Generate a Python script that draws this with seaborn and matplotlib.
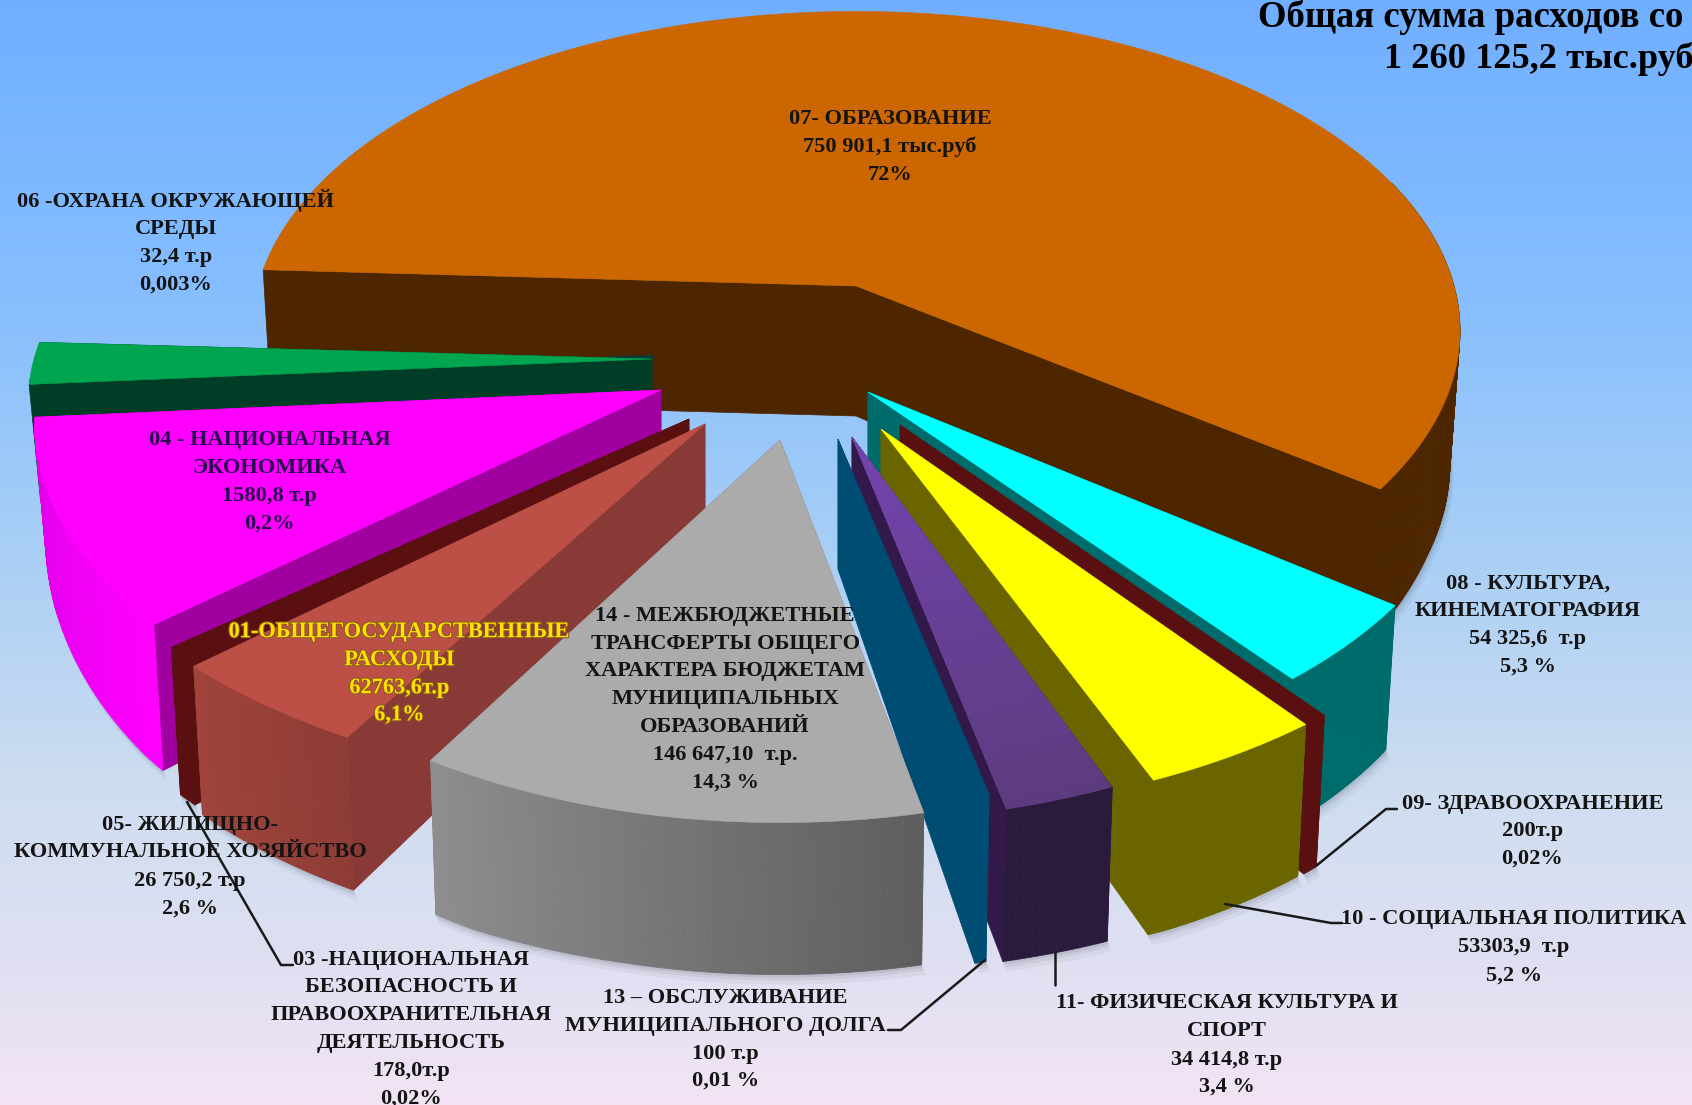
import numpy as np
import seaborn as sns
import matplotlib
matplotlib.use("Agg")
import matplotlib.pyplot as plt
import matplotlib.patheffects as pe
from matplotlib.colors import to_rgb

# slices clockwise from the left edge of 07, sizes in degrees as drawn in the picture
codes = ["07", "08", "09", "10", "11", "13", "14", "01", "03", "04", "06"]
slice_deg = [213.5, 14.5, 1.5, 15, 9.5, 1, 43, 17, 2, 35.5, 7.5]
start_deg = 177

title_lines = ["Общая сумма расходов со", "1 260 125,2 тыс.руб"]

label_07 = ["07- ОБРАЗОВАНИЕ", "750 901,1 тыс.руб", "72%"]
label_06 = ["06 -ОХРАНА ОКРУЖАЮЩЕЙ", "СРЕДЫ", "32,4 т.р", "0,003%"]
label_04 = ["04 - НАЦИОНАЛЬНАЯ", "ЭКОНОМИКА", "1580,8 т.р", "0,2%"]
label_01 = ["01-ОБЩЕГОСУДАРСТВЕННЫЕ", "РАСХОДЫ", "62763,6т.р", "6,1%"]
label_14 = ["14 - МЕЖБЮДЖЕТНЫЕ", "ТРАНСФЕРТЫ ОБЩЕГО", "ХАРАКТЕРА БЮДЖЕТАМ", "МУНИЦИПАЛЬНЫХ",
            "ОБРАЗОВАНИЙ", "146 647,10  т.р.", "14,3 %"]
label_08 = ["08 - КУЛЬТУРА,", "КИНЕМАТОГРАФИЯ", "54 325,6  т.р", "5,3 %"]
label_09 = ["09- ЗДРАВООХРАНЕНИЕ", "200т.р", "0,02%"]
label_10 = ["10 - СОЦИАЛЬНАЯ ПОЛИТИКА", "53303,9  т.р", "5,2 %"]
label_11 = ["11- ФИЗИЧЕСКАЯ КУЛЬТУРА И", "СПОРТ", "34 414,8 т.р", "3,4 %"]
label_13 = ["13 – ОБСЛУЖИВАНИЕ", "МУНИЦИПАЛЬНОГО ДОЛГА", "100 т.р", "0,01 %"]
label_03 = ["03 -НАЦИОНАЛЬНАЯ", "БЕЗОПАСНОСТЬ И", "ПРАВООХРАНИТЕЛЬНАЯ", "ДЕЯТЕЛЬНОСТЬ", "178,0т.р", "0,02%"]
label_05 = ["05- ЖИЛИЩНО-", "КОММУНАЛЬНОЕ ХОЗЯЙСТВО", "26 750,2 т.р", "2,6 %"]

# per slice look: apex in pixels, radii, perspective, colours
apex = {"07": (856, 286), "08": (868, 392), "09": (900, 425), "10": (881, 429), "11": (852, 437),
        "13": (838, 439), "14": (780, 440), "01": (705, 424), "03": (689, 419), "04": (661, 390),
        "06": (652, 359)}
radii = {"07": (598, 313), "08": (601, 329), "09": (601, 333), "10": (620, 331), "11": (592, 330),
         "13": (580, 315), "14": (597, 329), "01": (665, 350), "03": (654, 344), "04": (624, 344),
         "06": (618, 320)}
persp = {"01": 0.05, "03": 0.05, "04": 0.09}
extra_depth = {"13": 14, "07": 22}
top_col = {"07": ("#CC6600", "#CC6600"), "08": ("#00FFFF", "#00FFFF"), "09": ("#5A1010", "#5A1010"),
           "10": ("#FFFF00", "#FFFF00"), "11": ("#7444B0", "#5C3C7E"), "13": ("#004D73", "#004D73"),
           "14": ("#ABABAB", "#ABABAB"), "01": ("#BD5046", "#BD5046"), "03": ("#5A1010", "#5A1010"),
           "04": ("#FF00FF", "#FF00FF"), "06": ("#00A550", "#00A550")}
face_col = {"07": "#4D2600", "08": "#006B6B", "09": "#5A1010", "10": "#6B6500", "11": "#33194A",
            "13": "#004D73", "14": "#7A7A7A", "01": "#8A3A36", "03": "#5A1010", "04": "#A000A0",
            "06": "#003D26"}
rim_col = {"07": ("#4D2600", "#4D2600"), "08": ("#006B6B", "#006B6B"), "09": ("#5A1010", "#5A1010"),
           "10": ("#6B6500", "#6B6500"), "11": ("#2A1B3D", "#2A1B3D"), "13": ("#004D73", "#004D73"),
           "14": ("#5E5E5E", "#8E8E8E"), "01": ("#8E3C36", "#A0443C"), "03": ("#5A1010", "#5A1010"),
           "04": ("#FF00FF", "#DE00E6"), "06": ("#003D26", "#003D26")}
draw_order = ["07", "06", "04", "03", "01", "08", "09", "10", "11", "13", "14"]

APEX_DEPTH = 130
sns.set_theme(style="white")
plt.rcParams["font.family"] = ["Liberation Serif", "DejaVu Serif"]

fig = plt.figure(figsize=(16.92, 11.05), dpi=100)
ax = fig.add_axes([0, 0, 1, 1])

# background
stops = np.array([to_rgb(c) for c in ["#70AFFF", "#86BEFF", "#A9CFF5", "#CFDDF0", "#E0E0F2", "#F3E4F5"]])
pos = [0, 0.27, 0.5, 0.72, 0.88, 1]
yy = np.linspace(0, 1, 512)
grad = np.stack([np.interp(yy, pos, stops[:, i]) for i in range(3)], axis=1)[:, None, :]
ax.imshow(grad, extent=(0, 1692, 1105, 0), aspect="auto", zorder=0)


def rim_pt(code, t, scale=1.0):
    ax0, ay0 = apex[code]
    rx, ry = radii[code]
    s, c = np.sin(np.radians(t)), np.cos(np.radians(t))
    d = 1 + persp.get(code, 0.14) * s
    return ax0 + scale * rx * c / d, ay0 - scale * ry * s / d


def drop(code, x, y):
    # bottom edge of the pie: nearer rows are thicker, slight narrowing towards the centre
    dep = np.interp(y, [270, 417, 610, 775, 811], [108, 116, 145, 155, 152]) + extra_depth.get(code, 0)
    return 780 + (np.asarray(x) - 780) * 0.985, y + dep


def mix(a, b, f):
    a, b = np.array(to_rgb(a)), np.array(to_rgb(b))
    return tuple(a + (b - a) * f)


ang = start_deg
spans = {}
for code, deg in zip(codes, slice_deg):
    spans[code] = (ang, ang - deg)
    ang -= deg

for n, code in enumerate(draw_order):
    t1, t2 = spans[code]
    ts = np.linspace(t1, t2, max(int(abs(t1 - t2) * 2), 6))
    x, y = rim_pt(code, ts)
    bx, by = drop(code, x, y)
    ax0, ay0 = apex[code]
    z = 2 + n
    sin_t, cos_t = np.sin(np.radians(ts)), np.cos(np.radians(ts))
    seen = (sin_t < -0.1) | ((cos_t > 0) & (sin_t < 0.35))

    # soft shadow under the rim
    if seen.any():
        for off, al in [(10, 0.05), (6, 0.07), (3, 0.09)]:
            ax.fill(np.r_[bx[seen], bx[seen][::-1] + off * 0.4], np.r_[by[seen], by[seen][::-1] + off],
                    color="#303040", alpha=al, lw=0, zorder=z)

    # radial side faces
    for i in [0, -1]:
        ax.fill([ax0, x[i], bx[i], ax0], [ay0, y[i], by[i], ay0 + APEX_DEPTH],
                color=face_col[code], lw=0.5, zorder=z)

    # outer rim in strips, only where the viewer can see it
    c1, c2 = rim_col[code]
    for i in range(len(ts) - 1):
        if not seen[i]:
            continue
        f = i / max(len(ts) - 2, 1)
        ax.fill([x[i], x[i + 1], bx[i + 1], bx[i]], [y[i], y[i + 1], by[i + 1], by[i]],
                color=mix(c1, c2, f), lw=0.6, zorder=z)

    # dark back edge along the far side of 06
    if code == "06":
        ax.plot([x[0] + 2, ax0], [y[0] - 3, ay0 - 2], color="#0A3A3A", lw=3, zorder=z)

    # top face, in rings when it has a gradient
    c1, c2 = top_col[code]
    if c1 == c2:
        ax.fill(np.r_[ax0, x], np.r_[ay0, y], color=c1, lw=0.4, zorder=z)
    else:
        for sc in np.linspace(1, 0.02, 40):
            xs, ys = rim_pt(code, ts, sc)
            ax.fill(np.r_[ax0, xs], np.r_[ay0, ys], color=mix(c1, c2, sc), lw=0, zorder=z)

# leader lines
leaders = [([1316, 1386, 1397], [866, 809, 809]),
           ([1225, 1331, 1342], [904, 923, 923]),
           ([1055, 1055], [951, 985]),
           ([888, 901, 985], [1030, 1030, 960]),
           ([187, 281, 293], [802, 965, 965])]
for lx, ly in leaders:
    sns.lineplot(x=lx, y=ly, sort=False, estimator=None, color="#1a1a1a", lw=1.8, ax=ax, zorder=20)


def put(lines, x, ys, color="#141414", size=16.1):
    for line, yv in zip(lines, ys):
        t = ax.text(x, yv + 2, line, ha="center", va="center", fontsize=size, fontweight="bold", color=color, zorder=30)
        if color == "#FFE000":
            t.set_path_effects([pe.withStroke(linewidth=1.5, foreground="#8a5a20")])


S = 1692 / 1568
put(label_07, 825 * S, [y * S for y in [108, 134, 160]])
put(label_06, 163 * S, [y * S for y in [184, 210, 236, 262]])
put(label_04, 250 * S, [y * S for y in [406, 432, 458, 483]], color="#2a0a50")
put(label_01, 370 * S, [y * S for y in [584, 610, 636, 661]], color="#FFE000")
put(label_14, 672 * S, [y * S for y in [569, 595, 620, 646, 672, 698, 723]])
put(label_08, 1416 * S, [y * S for y in [539, 564, 590, 616]])
put(label_09, 1420 * S, [y * S for y in [743, 768, 794]])
put(label_10, 1403 * S, [y * S for y in [850, 876, 902]])
put(label_11, 1137 * S, [y * S for y in [928, 954, 980, 1005]])
put(label_13, 672 * S, [y * S for y in [923, 949, 975, 1000]])
put(label_03, 381 * S, [y * S for y in [888, 913, 939, 965, 991, 1016]])
put(label_05, 176 * S, [y * S for y in [763, 788, 815, 840]])

ax.text(1258, 17, title_lines[0], ha="left", va="center", fontsize=26.5, fontweight="bold", color="black", zorder=30)
ax.text(1384, 59, title_lines[1], ha="left", va="center", fontsize=26.2, fontweight="bold", color="black", zorder=30)

ax.set_xlim(0, 1692)
ax.set_ylim(1105, 0)
ax.set_axis_off()
sns.despine(ax=ax, left=True, bottom=True)
fig.savefig("out.png", dpi=100)
